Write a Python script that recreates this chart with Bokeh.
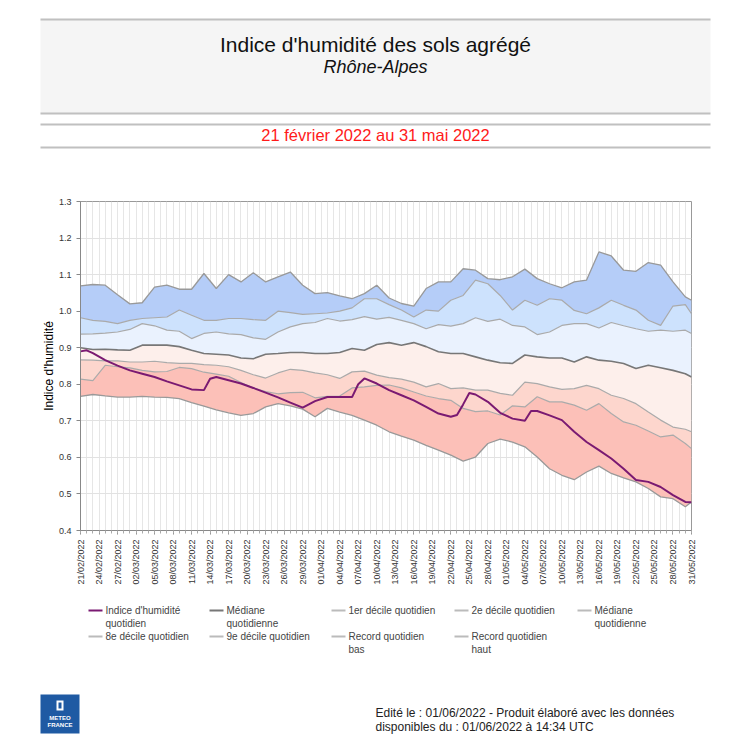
from bokeh.plotting import figure
from bokeh.models import Range1d, FixedTicker, PrintfTickFormatter
from bokeh.layouts import column
from bokeh.embed import file_html
from bokeh.resources import INLINE
from bokeh.core.properties import value

FONT = "Liberation Sans"

# ---- data (day offset from 21/02/2022) ----
jours = [0, 2, 4, 6, 8, 10, 12, 14, 16, 18, 20, 22, 24, 26, 28, 30, 32, 34, 36, 38,
         40, 42, 44, 46, 48, 50, 52, 54, 56, 58, 60, 62, 64, 66, 68, 70, 72, 74, 76, 78,
         80, 82, 84, 86, 88, 90, 92, 94, 96, 98, 99]

record_haut = [1.069, 1.073, 1.071, 1.045, 1.020, 1.023, 1.066, 1.071, 1.060, 1.060,
               1.103, 1.062, 1.100, 1.080, 1.105, 1.080, 1.094, 1.107, 1.071, 1.048,
               1.051, 1.042, 1.034, 1.048, 1.071, 1.036, 1.021, 1.014, 1.062, 1.080,
               1.080, 1.116, 1.112, 1.089, 1.086, 1.094, 1.115, 1.089, 1.075, 1.064,
               1.080, 1.085, 1.162, 1.151, 1.112, 1.109, 1.133, 1.126, 1.080, 1.039, 1.030]

decile_9 = [0.982, 0.975, 0.972, 0.966, 0.975, 0.980, 0.982, 0.984, 1.003, 0.989,
            0.975, 0.975, 0.980, 0.980, 0.977, 0.975, 1.000, 0.996, 0.991, 0.993,
            0.995, 1.000, 1.009, 1.034, 1.034, 1.018, 1.003, 0.984, 1.003, 1.000,
            1.030, 1.043, 1.085, 1.075, 1.043, 1.003, 1.030, 1.016, 1.034, 1.030,
            1.002, 0.993, 1.009, 1.030, 1.016, 1.003, 0.975, 0.961, 1.014, 1.018, 0.993]

decile_8 = [0.937, 0.938, 0.940, 0.943, 0.950, 0.966, 0.960, 0.948, 0.945, 0.925,
            0.939, 0.943, 0.938, 0.936, 0.927, 0.923, 0.943, 0.957, 0.966, 0.969,
            0.980, 0.973, 0.977, 0.985, 0.978, 0.983, 0.975, 0.966, 0.952, 0.963,
            0.959, 0.966, 0.982, 0.972, 0.978, 0.961, 0.957, 0.936, 0.943, 0.961,
            0.966, 0.966, 0.954, 0.969, 0.960, 0.952, 0.945, 0.948, 0.945, 0.948, 0.939]

mediane = [0.900, 0.895, 0.896, 0.894, 0.893, 0.907, 0.907, 0.907, 0.903, 0.893,
           0.884, 0.882, 0.880, 0.872, 0.870, 0.882, 0.884, 0.887, 0.887, 0.884,
           0.884, 0.887, 0.898, 0.893, 0.909, 0.914, 0.907, 0.914, 0.903, 0.889,
           0.884, 0.884, 0.875, 0.866, 0.859, 0.857, 0.880, 0.875, 0.872, 0.872,
           0.861, 0.875, 0.866, 0.863, 0.857, 0.843, 0.852, 0.845, 0.838, 0.829, 0.820]

decile_2 = [0.867, 0.866, 0.864, 0.864, 0.861, 0.861, 0.863, 0.859, 0.857, 0.857,
            0.854, 0.852, 0.848, 0.838, 0.826, 0.817, 0.831, 0.841, 0.838, 0.831,
            0.826, 0.816, 0.834, 0.836, 0.825, 0.818, 0.814, 0.806, 0.793, 0.802,
            0.788, 0.790, 0.784, 0.784, 0.775, 0.770, 0.806, 0.802, 0.793, 0.786,
            0.788, 0.797, 0.788, 0.770, 0.761, 0.747, 0.724, 0.702, 0.683, 0.677, 0.670]

decile_1 = [0.814, 0.810, 0.852, 0.848, 0.845, 0.838, 0.834, 0.835, 0.846, 0.843,
            0.833, 0.828, 0.822, 0.805, 0.790, 0.780, 0.774, 0.777, 0.778, 0.763,
            0.767, 0.768, 0.790, 0.793, 0.797, 0.798, 0.790, 0.779, 0.768, 0.761,
            0.756, 0.734, 0.725, 0.727, 0.716, 0.741, 0.738, 0.766, 0.752, 0.752,
            0.743, 0.729, 0.747, 0.720, 0.697, 0.688, 0.672, 0.656, 0.661, 0.638, 0.624]

record_bas = [0.767, 0.772, 0.768, 0.765, 0.765, 0.767, 0.765, 0.764, 0.761, 0.750,
              0.740, 0.730, 0.722, 0.715, 0.720, 0.738, 0.747, 0.741, 0.732, 0.711,
              0.734, 0.724, 0.715, 0.702, 0.688, 0.670, 0.658, 0.647, 0.633, 0.620,
              0.606, 0.590, 0.601, 0.638, 0.650, 0.642, 0.629, 0.601, 0.569, 0.551,
              0.539, 0.560, 0.576, 0.556, 0.544, 0.533, 0.515, 0.492, 0.487, 0.465, 0.478]

indice_jours = [0, 1, 2, 4, 6, 8, 10, 12, 14, 16, 18, 20, 21, 22, 24, 26, 28, 30, 32, 34,
                36, 38, 40, 42, 44, 45, 46, 48, 50, 52, 54, 56, 58, 60, 61, 62, 63, 64, 66, 68,
                70, 72, 73, 74, 76, 78, 80, 82, 84, 86, 88, 90, 92, 94, 96, 98, 99]
indice = [0.890, 0.893, 0.885, 0.866, 0.851, 0.838, 0.829, 0.820, 0.808, 0.797,
          0.786, 0.784, 0.815, 0.820, 0.811, 0.802, 0.790, 0.777, 0.764, 0.750,
          0.736, 0.754, 0.765, 0.765, 0.765, 0.800, 0.816, 0.802, 0.784, 0.770,
          0.756, 0.738, 0.720, 0.711, 0.716, 0.745, 0.776, 0.772, 0.752, 0.722,
          0.706, 0.700, 0.727, 0.727, 0.715, 0.702, 0.670, 0.642, 0.620, 0.597,
          0.569, 0.538, 0.533, 0.519, 0.497, 0.478, 0.477]

tick_jours = list(range(0, 100, 3))
tick_labels = ["21/02/2022", "24/02/2022", "27/02/2022", "02/03/2022", "05/03/2022",
               "08/03/2022", "11/03/2022", "14/03/2022", "17/03/2022", "20/03/2022",
               "23/03/2022", "26/03/2022", "29/03/2022", "01/04/2022", "04/04/2022",
               "07/04/2022", "10/04/2022", "13/04/2022", "16/04/2022", "19/04/2022",
               "22/04/2022", "25/04/2022", "28/04/2022", "01/05/2022", "04/05/2022",
               "07/05/2022", "10/05/2022", "13/05/2022", "16/05/2022", "19/05/2022",
               "22/05/2022", "25/05/2022", "28/05/2022", "31/05/2022"]
y_ticks = [0.4, 0.5, 0.6, 0.7, 0.8, 0.9, 1.0, 1.1, 1.2, 1.3]

titre = "Indice d'humidité des sols agrégé"
sous_titre = "Rhône-Alpes"
periode = "21 février 2022 au 31 mai 2022"

legend_rows = [
    [("Indice d'humidité", "quotidien", "#7a1a72"), ("Médiane", "quotidienne", "#777777"),
     ("1er décile quotidien", "", "#bbbbbb"), ("2e décile quotidien", "", "#bbbbbb"),
     ("Médiane", "quotidienne", "#bbbbbb")],
    [("8e décile quotidien", "", "#bbbbbb"), ("9e décile quotidien", "", "#bbbbbb"),
     ("Record quotidien", "bas", "#bbbbbb"), ("Record quotidien", "haut", "#bbbbbb")],
]
footer_lines = ["Edité le : 01/06/2022 - Produit élaboré avec les données",
                "disponibles du : 01/06/2022 à 14:34 UTC"]

W = 734

def page_fig(h, y0, y1):
    f = figure(width=W, height=h, x_range=Range1d(0, W), y_range=Range1d(y1, y0),
               x_axis_type=None, y_axis_type=None, toolbar_location=None,
               output_backend="svg", min_border=0, frame_align=False)
    f.grid.visible = False
    f.outline_line_color = None
    f.background_fill_color = "white"
    f.border_fill_color = "white"
    return f

# ---- header ----
hdr = page_fig(170, 0, 170)
hdr.quad(left=40, right=710, top=19, bottom=113, fill_color="#f5f5f5", line_color=None)
hdr.segment(x0=[40, 40, 40, 40], x1=[710, 710, 710, 710], y0=[19, 113, 124, 147],
            y1=[19, 113, 124, 147], line_color="#c0c0c0", line_width=2)
hdr.text(x=[375], y=[44], text=[titre], text_align="center", text_baseline="middle",
         text_font=value(FONT), text_font_size="21px", text_color="#111111")
hdr.text(x=[375], y=[66], text=[sous_titre], text_align="center", text_baseline="middle",
         text_font=value(FONT), text_font_size="18px", text_font_style="italic",
         text_color="#111111")
hdr.text(x=[375], y=[134], text=[periode], text_align="center", text_baseline="middle",
         text_font=value(FONT), text_font_size="16.5px", text_color="#ff1a1a")

# ---- chart ----
p = figure(width=W, height=420, x_range=Range1d(0, 99), y_range=Range1d(0.4, 1.3),
           toolbar_location=None, output_backend="svg", frame_align=False,
           min_border_left=80, min_border_right=43, min_border_top=31, min_border_bottom=60)
p.background_fill_color = "white"
p.border_fill_color = "white"
p.outline_line_color = "#999999"

p.xgrid.ticker = FixedTicker(ticks=list(range(0, 100)))
p.xgrid.grid_line_color = "#e6e6e6"
p.ygrid.ticker = FixedTicker(ticks=y_ticks)
p.ygrid.grid_line_color = "#e2e2e2"

bands = [
    (record_bas, decile_1, "#fcc0b8"),
    (decile_1, decile_2, "#fdd6cd"),
    (decile_2, mediane, "#fdefeb"),
    (mediane, decile_8, "#eaf2fe"),
    (decile_8, decile_9, "#cde2fd"),
    (decile_9, record_haut, "#b5cdf8"),
]
for lo, hi, col in bands:
    p.varea(x=jours, y1=lo, y2=hi, fill_color=col, fill_alpha=1.0)

p.line(jours, record_bas, line_color="#999999", line_width=1.3)
p.line(jours, record_haut, line_color="#999999", line_width=1.3)
for s in (decile_1, decile_2, decile_8, decile_9):
    p.line(jours, s, line_color="#aaaaaa", line_width=1.2)
p.line(jours, mediane, line_color="#777777", line_width=1.6)
p.line(indice_jours, indice, line_color="#7a1a72", line_width=2)

p.xaxis.ticker = FixedTicker(ticks=tick_jours, minor_ticks=list(range(0, 100)))
p.xaxis.major_label_overrides = {j: l for j, l in zip(tick_jours, tick_labels)}
p.xaxis.major_label_orientation = 3.14159265 / 2
p.xaxis.major_label_text_font_size = "9px"
p.xaxis.major_label_text_font = FONT
p.xaxis.major_label_text_color = "#333333"
p.xaxis.major_tick_out = 4
p.xaxis.major_tick_in = 0
p.xaxis.minor_tick_out = 3
p.xaxis.minor_tick_in = 0

p.yaxis.ticker = FixedTicker(ticks=y_ticks)
p.yaxis.formatter = PrintfTickFormatter(format="%.1f")
p.yaxis.major_label_text_font_size = "9px"
p.yaxis.major_label_text_font = FONT
p.yaxis.major_label_text_color = "#333333"
p.yaxis.major_tick_out = 4
p.yaxis.major_tick_in = 0
p.yaxis.axis_label = "Indice d'humidité"
p.yaxis.axis_label_text_font = FONT
p.yaxis.axis_label_text_font_size = "12px"
p.yaxis.axis_label_text_font_style = "normal"
p.yaxis.axis_label_text_color = "#000000"
p.yaxis.axis_label_standoff = 0
for ax in (p.xaxis, p.yaxis):
    ax.axis_line_color = "#888888"
    ax.major_tick_line_color = "#888888"
    ax.minor_tick_line_color = "#aaaaaa"
p.yaxis.minor_tick_line_color = None

# ---- legend + footer ----
bot = page_fig(144, 590, 734)
col_x = [88, 209, 331, 454, 577]
row_y = [610, 636]
for r, row in enumerate(legend_rows):
    for c, (l1, l2, colr) in enumerate(row):
        x = col_x[c]
        y = row_y[r]
        bot.segment(x0=[x], x1=[x + 14], y0=[y], y1=[y], line_color=colr, line_width=2)
        bot.text(x=[x + 17], y=[y], text=[l1], text_baseline="middle",
                 text_font=value(FONT), text_font_size="10px", text_color="#444444")
        if l2:
            bot.text(x=[x + 17], y=[y + 13], text=[l2], text_baseline="middle",
                     text_font=value(FONT), text_font_size="10px", text_color="#444444")

# logo
bot.quad(left=40, right=79, top=694, bottom=733, fill_color="#1f5aa3", line_color=None)
bot.quad(left=56, right=63, top=700, bottom=710, fill_color="white", line_color=None)
bot.quad(left=58, right=61, top=702, bottom=708, fill_color="#1f5aa3", line_color=None)
bot.text(x=[59.5, 59.5], y=[717, 724], text=["METEO", "FRANCE"], text_align="center",
         text_baseline="middle", text_font=value(FONT), text_font_size="6px",
         text_font_style="bold", text_color="white")

bot.text(x=[375, 375], y=[712, 726], text=footer_lines, text_baseline="middle",
         text_font=value(FONT), text_font_size="12px", text_color="#222222")

layout = column(hdr, p, bot, spacing=0)
open("out.html", "w").write(file_html(layout, INLINE))
